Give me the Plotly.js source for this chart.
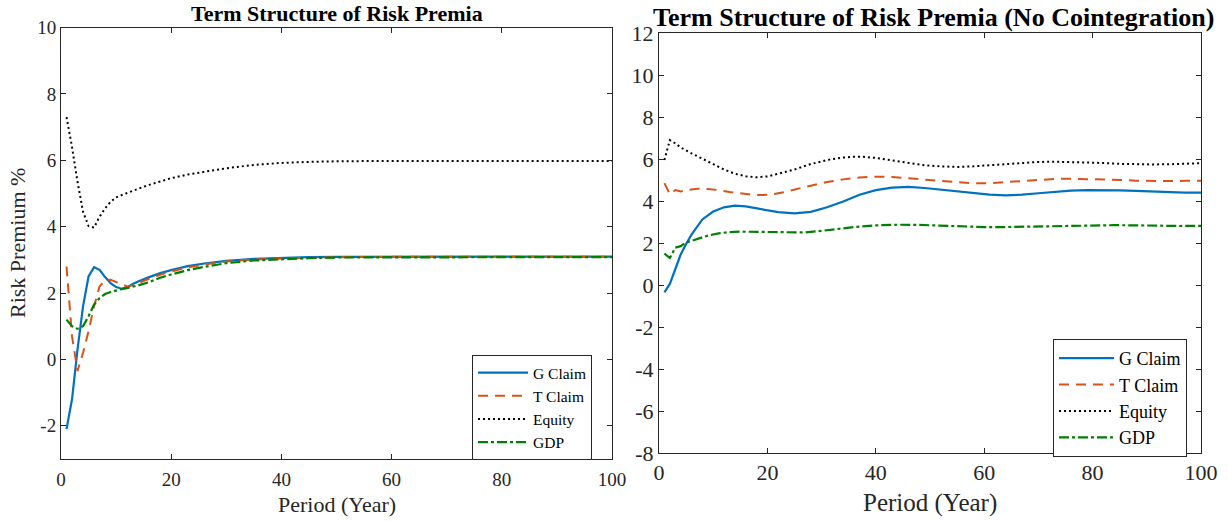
<!DOCTYPE html>
<html>
<head>
<meta charset="utf-8">
<script src="https://cdn.plot.ly/plotly-3.0.1.min.js"></script>
<style>html,body{margin:0;padding:0;background:#fff;}#chart{width:1228px;height:521px;}</style>
</head>
<body>
<div id="chart"></div>
<script>
// ---------- Left panel: Term Structure of Risk Premia ----------
const leftGx = [1,2,3,4,5,6,7,8,9,10,11,12,13,14,16,18,20,23,26,30,35,40,45,50,60,70,80,90,100];
const leftG  = [-2.1,-1.2,0.3,1.6,2.5,2.78,2.7,2.48,2.3,2.18,2.13,2.17,2.27,2.35,2.48,2.6,2.69,2.81,2.89,2.97,3.03,3.06,3.08,3.09,3.1,3.1,3.1,3.1,3.1];
const leftTx = [1,2,3,4,5,6,7,8,9,10,11,12,13,14,16,18,20,23,26,30,35,40,45,50,60,70,80,90,100];
const leftT  = [2.8,0.7,-0.35,0.2,0.85,1.6,2.2,2.38,2.4,2.33,2.25,2.2,2.23,2.3,2.43,2.55,2.65,2.77,2.86,2.95,3.01,3.04,3.06,3.08,3.09,3.09,3.09,3.09,3.09];
const leftEx = [1,2,3,4,5,6,7,8,9,10,11,12,13,14,16,18,20,23,26,30,35,40,45,50,60,70,80,90,100];
const leftE  = [7.3,6.4,5.35,4.45,4.02,3.97,4.3,4.55,4.75,4.88,4.95,5.02,5.08,5.14,5.26,5.37,5.46,5.57,5.66,5.76,5.86,5.92,5.95,5.97,5.98,5.98,5.98,5.98,5.98];
const leftDx = [1,2,3,4,5,6,7,8,9,10,11,12,13,14,16,18,20,23,26,30,35,40,45,50,60,70,80,90,100];
const leftD  = [1.2,1.0,0.92,1.0,1.3,1.65,1.85,1.97,2.03,2.08,2.12,2.15,2.18,2.23,2.33,2.46,2.56,2.69,2.79,2.9,2.98,3.02,3.05,3.07,3.08,3.08,3.08,3.08,3.08];

// ---------- Right panel: No Cointegration ----------
const rightGx = [1,2,3,4,5,6,8,10,12,14,16,18,20,22,25,28,31,34,37,40,43,46,49,52,55,58,61,64,67,70,73,76,79,82,85,88,91,94,97,100];
const rightG  = [-0.35,0.05,0.75,1.45,1.95,2.4,3.12,3.5,3.7,3.78,3.74,3.64,3.54,3.47,3.41,3.48,3.7,3.98,4.3,4.52,4.64,4.67,4.62,4.54,4.45,4.36,4.3,4.27,4.3,4.37,4.44,4.49,4.52,4.53,4.51,4.48,4.45,4.42,4.4,4.4];
const rightTx = [1,2,3,4,5,7,9,11,13,15,17,19,21,23,25,28,31,34,37,40,43,46,49,52,55,58,61,64,67,70,73,76,79,82,85,88,91,94,97,100];
const rightT  = [4.85,4.32,4.52,4.45,4.52,4.58,4.57,4.52,4.43,4.35,4.3,4.28,4.32,4.42,4.55,4.73,4.9,5.03,5.12,5.16,5.14,5.08,5.0,4.93,4.87,4.84,4.85,4.9,4.97,5.02,5.05,5.06,5.05,5.03,5.0,4.97,4.95,4.95,4.96,4.97];
const rightEx = [1,2,3,4,6,8,10,12,14,16,18,20,22,25,28,31,34,36,38,40,43,46,49,52,55,58,61,64,67,70,73,76,79,82,85,88,91,94,97,100];
const rightE  = [5.95,6.9,6.75,6.55,6.27,6.02,5.77,5.5,5.3,5.18,5.13,5.17,5.3,5.5,5.76,5.95,6.07,6.11,6.1,6.05,5.93,5.8,5.7,5.65,5.62,5.65,5.7,5.77,5.82,5.86,5.87,5.86,5.84,5.81,5.77,5.75,5.74,5.75,5.77,5.8];
const rightDx = [1,2,3,4,5,7,9,11,13,15,18,21,24,27,30,33,36,40,44,48,52,56,60,64,68,72,76,80,84,88,92,96,100];
const rightD  = [1.5,1.28,1.78,1.85,2.02,2.2,2.35,2.46,2.52,2.54,2.53,2.5,2.48,2.5,2.58,2.68,2.76,2.84,2.87,2.86,2.82,2.78,2.76,2.76,2.78,2.81,2.84,2.85,2.85,2.84,2.82,2.81,2.82];

// ---------- Labels & ticks ----------
const seriesNames = ['G Claim','T Claim','Equity','GDP'];
const xTickVals = [0,20,40,60,80,100];
const xTickText = ['0','20','40','60','80','100'];
const leftYTickVals = [-2,0,2,4,6,8,10];
const leftYTickText = ['-2','0','2','4','6','8','10'];
const rightYTickVals = [-8,-6,-4,-2,0,2,4,6,8,10,12];
const rightYTickText = ['-8','-6','-4','-2','0','2','4','6','8','10','12'];
const leftTitle = 'Term Structure of Risk Premia';
const rightTitle = 'Term Structure of Risk Premia (No Cointegration)';
const xTitle = 'Period (Year)';
const yTitle = 'Risk Premium %';

const W = 1228, H = 521;
const FONT = 'Liberation Serif, Times New Roman, serif';
const styles = [
  {color:'#0072BD', width:2.2, dash:'solid'},
  {color:'#D95319', width:2, dash:'10px,7px'},
  {color:'#000000', width:2, dash:'2px,3px'},
  {color:'#008000', width:2.2, dash:'10px,3px,3px,3px'}
];

function mk(x, y, i, xa, ya, lg) {
  return {x:x, y:y, type:'scatter', mode:'lines', name:seriesNames[i],
    xaxis:xa, yaxis:ya, legend:lg, line:styles[i]};
}
const traces = [
  mk(leftGx,leftG,0,'x','y','legend'),
  mk(leftTx,leftT,1,'x','y','legend'),
  mk(leftEx,leftE,2,'x','y','legend'),
  mk(leftDx,leftD,3,'x','y','legend'),
  mk(rightGx,rightG,0,'x2','y2','legend2'),
  mk(rightTx,rightT,1,'x2','y2','legend2'),
  mk(rightEx,rightE,2,'x2','y2','legend2'),
  mk(rightDx,rightD,3,'x2','y2','legend2')
];

function axis(dom, range, tv, tt, fs, anchor, standoff) {
  return {domain:dom, range:range, tickmode:'array', tickvals:tv, ticktext:tt,
    showline:true, mirror:'allticks', ticks:'inside', ticklen:5, tickwidth:1,
    tickcolor:'#262626', linecolor:'#262626', linewidth:1, showgrid:false, zeroline:false,
    ticklabelstandoff:standoff,
    tickfont:{family:FONT, size:fs, color:'#262626'}, anchor:anchor, fixedrange:true};
}
const L = {x0:61, x1:612, y0:27.5, y1:459};
const R = {x0:659, x1:1201, y0:33, y1:453};
const px = v => v / W, py = v => (H - v) / H;

const layout = {
  width:W, height:H, margin:{l:0,r:0,t:0,b:0}, paper_bgcolor:'#fff', plot_bgcolor:'#fff',
  showlegend:true,
  xaxis: axis([px(L.x0),px(L.x1)],[0,100],xTickVals,xTickText,19,'y',3),
  yaxis: axis([py(L.y1),py(L.y0)],[-3,10],leftYTickVals,leftYTickText,19,'x',0),
  xaxis2: axis([px(R.x0),px(R.x1)],[0,100],xTickVals,xTickText,22,'y2',0),
  yaxis2: axis([py(R.y1),py(R.y0)],[-8,12],rightYTickVals,rightYTickText,22,'x2',0),
  legend: {x:px(472), y:py(355), xanchor:'left', yanchor:'top', bgcolor:'#fff', itemwidth:50,
    bordercolor:'#262626', borderwidth:1, font:{family:FONT, size:15.5, color:'#000'}, tracegroupgap:0},
  legend2: {x:px(1053), y:py(339), xanchor:'left', yanchor:'top', bgcolor:'#fff', itemwidth:55,
    bordercolor:'#262626', borderwidth:1, font:{family:FONT, size:18, color:'#000'}, tracegroupgap:0},
  annotations: [
    {text:'<b>'+leftTitle+'</b>', xref:'paper', yref:'paper', x:px(336.5), y:py(13.5), xanchor:'center', yanchor:'middle', showarrow:false, font:{family:FONT, size:22, color:'#000'}},
    {text:'<b>'+rightTitle+'</b>', xref:'paper', yref:'paper', x:px(933), y:py(18), xanchor:'center', yanchor:'middle', showarrow:false, font:{family:FONT, size:26, color:'#000'}},
    {text:xTitle, xref:'paper', yref:'paper', x:px(336.5), y:py(504), xanchor:'center', yanchor:'middle', showarrow:false, font:{family:FONT, size:22, color:'#262626'}},
    {text:xTitle, xref:'paper', yref:'paper', x:px(930), y:py(503), xanchor:'center', yanchor:'middle', showarrow:false, font:{family:FONT, size:25, color:'#262626'}},
    {text:yTitle, xref:'paper', yref:'paper', x:px(18), y:py(243), xanchor:'center', yanchor:'middle', textangle:-90, showarrow:false, font:{family:FONT, size:22, color:'#262626'}}
  ]
};
Plotly.newPlot('chart', traces, layout, {displayModeBar:false, staticPlot:true});
</script>
</body>
</html>
